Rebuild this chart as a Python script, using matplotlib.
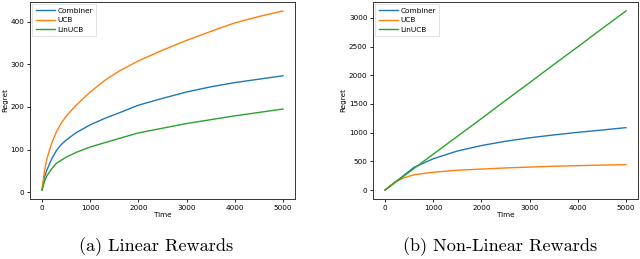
import matplotlib
matplotlib.use("Agg")
import matplotlib.pyplot as plt

# Linear rewards (a)
t_a = [0, 50, 100, 200, 300, 400, 500, 700, 1000, 1300, 1600, 2000, 2500, 3000, 3500, 4000, 4500, 5000]
comb_a = [5, 35, 52, 78, 98, 112, 122, 139, 158, 173, 186, 204, 220, 235, 247, 257, 265, 273]
ucb_a = [5, 50, 78, 115, 142, 162, 178, 203, 235, 262, 284, 308, 333, 356, 377, 397, 412, 425]
lin_a = [5, 25, 38, 55, 68, 75, 82, 93, 106, 116, 126, 139, 150, 161, 170, 179, 187, 195]

# Non-linear rewards (b)
t_b = [0, 200, 400, 600, 800, 1000, 1500, 2000, 2500, 3000, 3500, 4000, 4500, 5000]
comb_b = [0, 130, 262, 395, 470, 545, 680, 775, 850, 910, 960, 1005, 1045, 1087]
ucb_b = [0, 140, 215, 265, 290, 310, 345, 365, 385, 400, 415, 425, 435, 442]
lin_b = [0, 125, 250, 375, 500, 625, 935, 1245, 1560, 1870, 2185, 2495, 2810, 3120]

series_names = ["Combiner", "UCB", "LinUCB"]
captions = ["(a) Linear Rewards", "(b) Non-Linear Rewards"]
xticks = [0, 1000, 2000, 3000, 4000, 5000]

colors = ["#1f77b4", "#ff7f0e", "#2ca02c"]

fig = plt.figure(figsize=(6.4, 2.59), dpi=100)
W, H = 640, 259
ax1 = fig.add_axes([30 / W, 60 / H, 265 / W, 197 / H])
ax2 = fig.add_axes([373 / W, 60 / H, 265 / W, 197 / H])

for ax, t, ys in [(ax1, t_a, [comb_a, ucb_a, lin_a]), (ax2, t_b, [comb_b, ucb_b, lin_b])]:
    for y, name, c in zip(ys, series_names, colors):
        ax.plot(t, y, color=c, lw=1.0, label=name)
    ax.set_xticks(xticks)
    ax.tick_params(labelsize=5.2, length=2, width=0.6, pad=2)
    ax.set_xlabel("Time", fontsize=5.2, labelpad=1)
    ax.set_ylabel("Regret", fontsize=5.2, labelpad=2)
    for s in ax.spines.values():
        s.set_linewidth(0.7)
        s.set_color("#333333")
    leg = ax.legend(loc="upper left", fontsize=5.3, frameon=True, handlelength=2.6,
                    handletextpad=0.35, borderpad=0.45, labelspacing=0.45,
                    fancybox=False, borderaxespad=0.3)
    leg.get_frame().set_linewidth(0.5)

ax1.set_yticks([0, 100, 200, 300, 400])
ax2.set_yticks([0, 500, 1000, 1500, 2000, 2500, 3000])

fig.text(156.5 / W, 1 - 247 / H, captions[0], family="cmr10", fontsize=13.1,
         ha="center", va="center")
fig.text(500.5 / W, 1 - 247 / H, captions[1], family="cmr10", fontsize=13.1,
         ha="center", va="center")

fig.savefig("out.png", dpi=100)
